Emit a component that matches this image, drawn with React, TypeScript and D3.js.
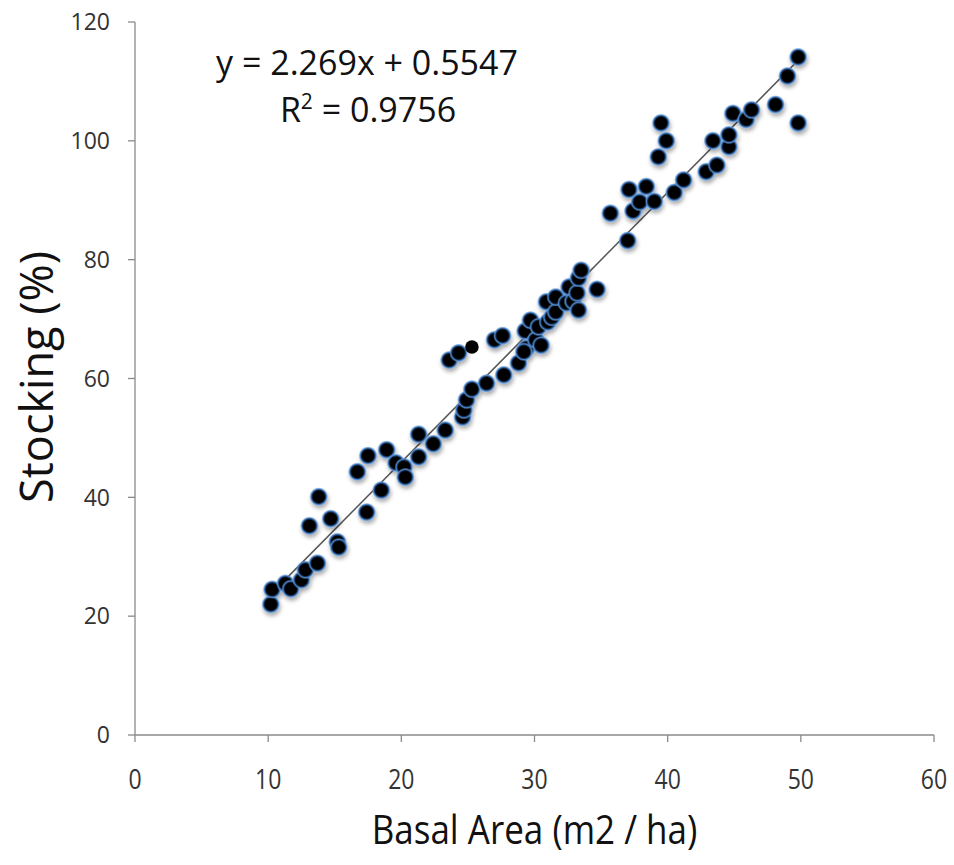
import React from "react";
import * as d3 from "d3";

const basalArea = [
  10.2, 10.3, 11.3, 11.7, 12.5, 12.8, 13.7, 13.1, 13.8, 14.7, 15.2, 15.3, 17.4, 16.7, 17.5, 18.5,
  18.9, 19.6, 20.2, 20.3, 21.3, 21.3, 22.4, 23.3, 23.6, 24.3, 24.6, 24.7, 24.9, 25.3, 26.4, 27.0,
  27.6, 27.7, 28.8, 29.3, 29.4, 29.2, 29.7, 30.1, 30.3, 30.5, 30.9, 31.0, 31.3, 31.6, 31.6, 32.4,
  32.6, 32.9, 33.2, 33.3, 33.3, 33.5, 34.7, 35.7, 37.0, 37.1, 37.4, 37.9, 38.4, 39.0, 39.3, 39.5,
  39.9, 40.5, 41.2, 42.9, 43.7, 43.4, 44.6, 44.6, 44.9, 45.9, 46.3, 48.1, 49.0, 49.8, 49.8,
];
const stocking = [
  22.0, 24.5, 25.5, 24.6, 26.1, 27.8, 28.9, 35.2, 40.1, 36.4, 32.5, 31.6, 37.5, 44.3, 47.0, 41.2,
  48.0, 45.8, 45.1, 43.4, 46.8, 50.6, 49.0, 51.3, 63.1, 64.3, 53.5, 54.7, 56.4, 58.2, 59.2, 66.5,
  67.2, 60.6, 62.6, 68.0, 65.1, 64.5, 69.8, 66.5, 68.7, 65.6, 72.9, 69.5, 70.3, 71.2, 73.7, 72.7,
  75.4, 73.0, 74.4, 71.5, 76.9, 78.2, 75.0, 87.8, 83.2, 91.8, 88.2, 89.7, 92.3, 89.8, 97.3, 103.0,
  100.0, 91.3, 93.4, 94.8, 95.9, 100.0, 99.0, 101.0, 104.6, 103.6, 105.2, 106.1, 110.9, 114.1, 103.0,
];
const highlightX = [25.3];
const highlightY = [65.3];
const xTicks = [0, 10, 20, 30, 40, 50, 60];
const yTicks = [0, 20, 40, 60, 80, 100, 120];
const slope = 2.269;
const intercept = 0.5547;
const fitRange = [11.3, 49.8];
const equationText = "y = 2.269x + 0.5547";
const r2Value = "0.9756";
const xTitle = "Basal Area (m2 / ha)";
const yTitle = "Stocking (%)";

export default function App() {
  const W = 954;
  const H = 865;
  const x = d3.scaleLinear().domain([0, 60]).range([135, 934]);
  const y = d3.scaleLinear().domain([0, 120]).range([735, 22]);
  const line = d3.line<number>().x((d) => x(d)).y((d) => y(slope * d + intercept));
  const axisColor = "#8a8a8a";
  const font = "'Open Sans', sans-serif";
  const pts = basalArea.map((b, i) => ({ b, s: stocking[i] }));

  return (
    <svg width={W} height={H} style={{ position: "absolute", left: 0, top: 0, background: "#fff" }}>
      <defs>
        <radialGradient id="dot" cx="50%" cy="50%" r="50%">
          <stop offset="0%" stopColor="#000" />
          <stop offset="60%" stopColor="#000" />
          <stop offset="71%" stopColor="#16335c" />
          <stop offset="82%" stopColor="#4a85c9" />
          <stop offset="100%" stopColor="#6fa0d8" stopOpacity="0" />
        </radialGradient>
        <filter id="shadow" x="-50%" y="-50%" width="200%" height="220%">
          <feGaussianBlur in="SourceAlpha" stdDeviation="2" />
          <feOffset dx="1" dy="3" result="b" />
          <feComponentTransfer>
            <feFuncA type="linear" slope="0.35" />
          </feComponentTransfer>
          <feMerge>
            <feMergeNode />
            <feMergeNode in="SourceGraphic" />
          </feMerge>
        </filter>
      </defs>

      {/* axes */}
      <line x1={x(0)} x2={x(60)} y1={y(0)} y2={y(0)} stroke={axisColor} strokeWidth={1.3} />
      <line x1={x(0)} x2={x(0)} y1={y(0)} y2={y(120)} stroke={axisColor} strokeWidth={1.3} />
      {yTicks.map((t) => (
        <g key={"y" + t}>
          <line x1={x(0) - 7} x2={x(0)} y1={y(t)} y2={y(t)} stroke={axisColor} strokeWidth={1.3} />
          <text x={x(0) - 25} y={y(t)} dy="0.36em" textAnchor="end" fontFamily={font} fontSize={23} fill="#333">
            {t}
          </text>
        </g>
      ))}
      {xTicks.map((t) => (
        <g key={"x" + t} transform={`translate(${x(t)}, ${y(0) + 54}) scale(1, 1.2)`}>
          <line x1={0} x2={0} y1={-54 / 1.2} y2={-47 / 1.2} stroke={axisColor} strokeWidth={1.3} />
          <text x={0} y={0} textAnchor="middle" fontFamily={font} fontSize={23} fill="#333">
            {t}
          </text>
        </g>
      ))}

      {/* trendline */}
      <path d={line(fitRange) || ""} stroke="#555" strokeWidth={1.5} fill="none" />

      {/* points */}
      <g filter="url(#shadow)">
        {pts.map((p, i) => (
          <circle key={i} cx={x(p.b)} cy={y(p.s)} r={9.5} fill="url(#dot)" />
        ))}
      </g>
      {highlightX.map((b, i) => (
        <circle key={"h" + i} cx={x(b)} cy={y(highlightY[i])} r={6.8} fill="#000" />
      ))}

      {/* equation */}
      <text x={367} y={75} textAnchor="middle" fontFamily={font} fontSize={34} fill="#111">
        {equationText}
      </text>
      <text x={368} y={122} textAnchor="middle" fontFamily={font} fontSize={34} fill="#111">
        R<tspan dy={-13} fontSize={21}>2</tspan>
        <tspan dy={13}> = {r2Value}</tspan>
      </text>

      {/* titles */}
      <g transform={`translate(${(x(0) + x(60)) / 2}, 844) scale(1, 1.15)`}>
        <text x={0} y={0} textAnchor="middle" fontFamily={font} fontSize={35} fill="#111">
          {xTitle}
        </text>
      </g>
      <text
        transform={`translate(53, 377) rotate(-90)`}
        textAnchor="middle"
        fontFamily={font}
        fontSize={45}
        fill="#111"
      >
        {yTitle}
      </text>
    </svg>
  );
}
